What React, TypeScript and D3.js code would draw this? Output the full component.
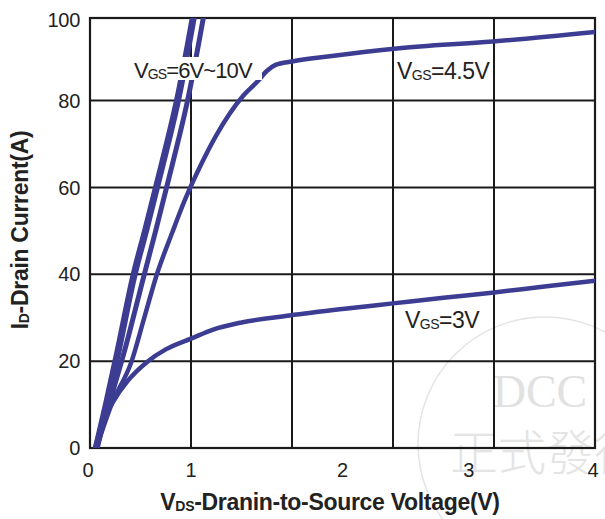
import React from "react";
import * as d3 from "d3";

// ---- data ----
const xGridValues = [0.8, 1.6, 2.4, 3.2];
const yGridValues = [20, 40, 60, 80];
const xTickPositions = [0, 0.8, 2, 3, 4];
const xTickLabels = ["0", "1", "2", "3", "4"];
const yTickValues = [0, 20, 40, 60, 80, 100];

// Vgs = 6V~10V bundle (two near-parallel lines)
const vgs10A: [number, number][] = [
  [0.05, 0], [0.13, 10], [0.22, 22], [0.35, 40], [0.44, 50], [0.57, 65], [0.7, 81], [0.78, 93], [0.83, 101],
];
const vgs10B: [number, number][] = [
  [0.05, 0], [0.15, 10], [0.27, 22], [0.43, 40], [0.52, 50], [0.65, 65], [0.78, 81], [0.86, 93], [0.91, 101],
];
const vgs45: [number, number][] = [
  [0.05, 0], [0.17, 10], [0.33, 20], [0.43, 30], [0.53, 40], [0.65, 49.5], [0.75, 57], [0.87, 64.7],
  [1.0, 72], [1.21, 81], [1.33, 84.5], [1.4, 86.8], [1.47, 88.2], [1.6, 89], [1.9, 90.2], [2.43, 92],
  [3.19, 93.6], [4.0, 95.8],
];
const vgs3: [number, number][] = [
  [0.04, 0], [0.1, 6], [0.18, 10.5], [0.3, 15.5], [0.46, 20], [0.6, 22.7], [0.81, 25.3], [0.97, 27.2],
  [1.2, 28.9], [1.58, 30.5], [2.0, 32], [2.4, 33.3], [2.8, 34.6], [3.2, 35.8], [3.6, 37.2], [4.0, 38.5],
];

const W = 605;
const H = 519;
const left = 90, right = 595, top = 18, bottom = 448;
const LINE = "#3b3c92";
const GRID = "#1a1a1a";
const FONT = "Liberation Sans, Arial, Helvetica, sans-serif";

export default function App() {
  const x = d3.scaleLinear().domain([0, 4]).range([left, right]);
  const y = d3.scaleLinear().domain([0, 99]).range([bottom, top]);
  const line = d3
    .line<[number, number]>()
    .x((d) => x(d[0]))
    .y((d) => y(d[1]))
    .curve(d3.curveMonotoneX);

  return (
    <svg
      width={W}
      height={H}
      viewBox={`0 0 ${W} ${H}`}
      style={{ position: "absolute", left: 0, top: 0, background: "#fff" }}
      fontFamily={FONT}
    >
      <defs>
        <clipPath id="plot">
          <rect x={left} y={top} width={right - left} height={bottom - top} />
        </clipPath>
      </defs>

      {/* watermark */}
      <g opacity={0.9}>
        <circle cx={545} cy={444} r={127} fill="none" stroke="#e2e2e2" strokeWidth={1.5} />
        <text x={540} y={407} textAnchor="middle" fontFamily="Liberation Serif, DejaVu Serif, serif" fontSize={46} fill="#dedede">
          DCC
        </text>
        <text x={450} y={470} fontFamily="Noto Sans CJK TC, sans-serif" fontSize={48} fill="#e2e2e2" fontWeight={300}>
          正式發行
        </text>
      </g>

      {/* grid */}
      {xGridValues.map((v) => (
        <line key={"gx" + v} x1={x(v)} x2={x(v)} y1={top} y2={bottom} stroke={GRID} strokeWidth={2} />
      ))}
      {yGridValues.map((v) => (
        <line key={"gy" + v} x1={left} x2={right} y1={y(v)} y2={y(v)} stroke={GRID} strokeWidth={2} />
      ))}
      <rect x={left} y={top} width={right - left} height={bottom - top} fill="none" stroke={GRID} strokeWidth={2.2} />

      {/* curves */}
      <g clipPath="url(#plot)" fill="none" stroke={LINE} strokeLinecap="round">
        <path d={line(vgs3) || ""} strokeWidth={4.5} />
        <path d={line(vgs45) || ""} strokeWidth={4.5} />
        <path d={line(vgs10B) || ""} strokeWidth={5} />
        <path d={line(vgs10A) || ""} strokeWidth={7} />
      </g>

      {/* curve labels */}
      <rect x={133} y={57} width={129} height={23} fill="#fff" />
      <text x={134} y={78} fontSize={22} fill="#222" letterSpacing={-0.9}>
        V<tspan fontSize={14} dy={1}>GS</tspan>
        <tspan dy={-1}>=6V~10V</tspan>
      </text>
      <text x={397} y={79} fontSize={23} fill="#222" letterSpacing={-0.5}>
        V<tspan fontSize={14} dy={1}>GS</tspan>
        <tspan dy={-1}>=4.5V</tspan>
      </text>
      <text x={405} y={328} fontSize={23} fill="#222" letterSpacing={-0.5}>
        V<tspan fontSize={14} dy={1}>GS</tspan>
        <tspan dy={-1}>=3V</tspan>
      </text>

      {/* y ticks */}
      {yTickValues.map((v) => (
        <text
          key={"yt" + v}
          x={80}
          y={Math.max(y(v), top + 2)}
          dy="0.36em"
          textAnchor="end"
          fontSize={20}
          fill="#222"
          letterSpacing={-0.3}
        >
          {v}
        </text>
      ))}
      {/* x ticks */}
      {xTickPositions.map((v, i) => (
        <text key={"xt" + i} x={x(v) - (i === 0 ? 2 : i === 4 ? 2 : 0)} y={477} textAnchor="middle" fontSize={20} fill="#222">
          {xTickLabels[i]}
        </text>
      ))}

      {/* axis titles */}
      <text x={330} y={510} textAnchor="middle" fontSize={23} fontWeight="bold" fill="#222" letterSpacing={-0.3}>
        V<tspan fontSize={14} dy={1}>DS</tspan>
        <tspan dy={-1}>-Dranin-to-Source Voltage(V)</tspan>
      </text>
      <text
        transform={`translate(28, ${230}) rotate(-90)`}
        textAnchor="middle"
        fontSize={23}
        fontWeight="bold"
        fill="#222"
        letterSpacing={-0.3}
      >
        I<tspan fontSize={14} dy={1}>D</tspan>
        <tspan dy={-1}>-Drain Current(A)</tspan>
      </text>
    </svg>
  );
}
